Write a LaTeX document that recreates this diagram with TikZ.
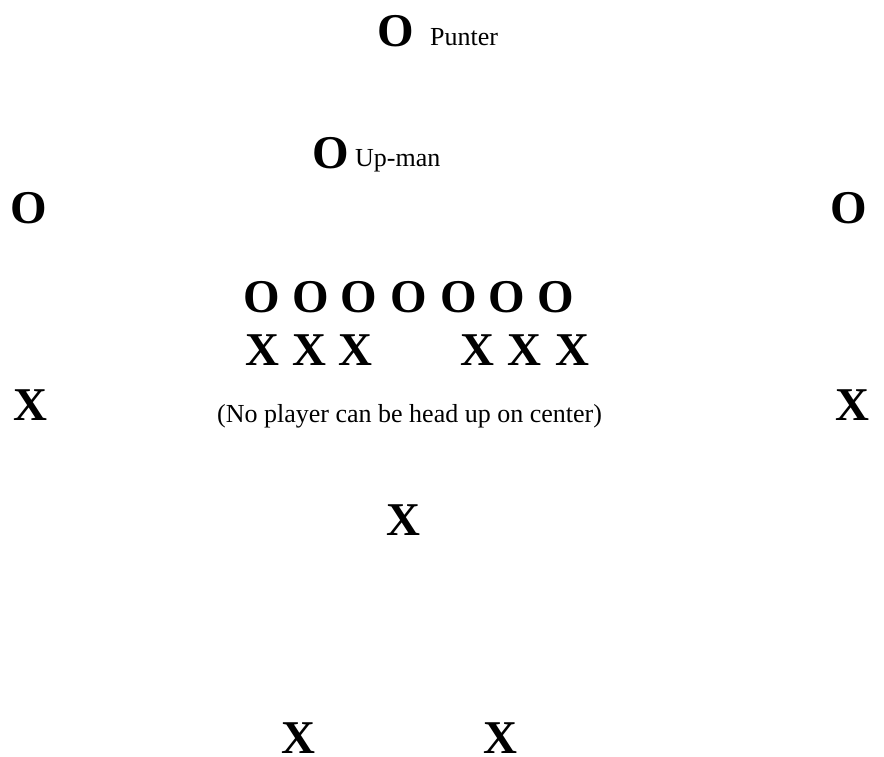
\documentclass[tikz,border=0pt]{standalone}
\usepackage{fontspec}
\setmainfont{Liberation Serif}
\begin{document}
\begin{tikzpicture}[x=1pt,y=-1pt,
  big/.style={inner sep=0pt,anchor=base west,font=\fontsize{47}{47}\selectfont\bfseries},
  lbl/.style={inner sep=0pt,anchor=base west,font=\fontsize{26}{26}\selectfont},
  notetext/.style={inner sep=0pt,anchor=base west,font=\fontsize{26}{26}\selectfont}]
\useasboundingbox (0,0) rectangle (884,756);
% punter and up-man
\node[big] (punter) at (377,46) {O};
\node[lbl] (punterlbl) at (430,45) {Punter};
\node[big] (upman) at (312,168) {O};
\node[lbl] (upmanlbl) at (355,166) {Up-man};
% wings
\node[big] (wl) at (10,223) {O};
\node[big] (wr) at (830,223) {O};
% line
\node[big] (o1) at (243,312) {O};
\node[big] (o2) at (292,312) {O};
\node[big] (o3) at (340,312) {O};
\node[big] (o4) at (390,312) {O};
\node[big] (o5) at (440,312) {O};
\node[big] (o6) at (488,312) {O};
\node[big] (o7) at (537,312) {O};
% defensive line
\node[big] (x1) at (245,365) {X};
\node[big] (x2) at (292,365) {X};
\node[big] (x3) at (338,365) {X};
\node[big] (x4) at (460,365) {X};
\node[big] (x5) at (507,365) {X};
\node[big] (x6) at (555,365) {X};
% edge defenders
\node[big] (xl) at (13,420) {X};
\node[big] (xr) at (835,420) {X};
\node[notetext] (note) at (217,422) {(No player can be head up on center)};
% middle
\node[big] (xm) at (386,535) {X};
% deep
\node[big] (xd1) at (281,753) {X};
\node[big] (xd2) at (483,753) {X};
\end{tikzpicture}
\end{document}
